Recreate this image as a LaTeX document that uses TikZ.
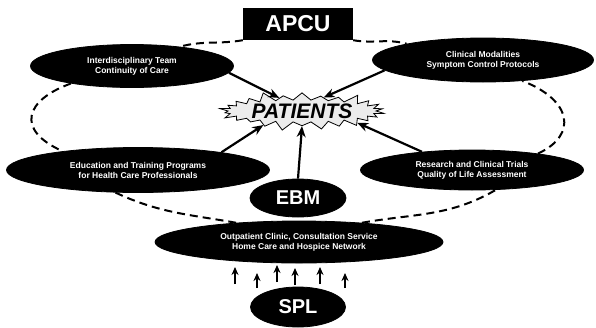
\documentclass[tikz,border=0pt]{standalone}
\usepackage{fontspec}
\setmainfont{Liberation Sans}
\usetikzlibrary{shapes.geometric,shapes.symbols,arrows.meta}
\tikzset{
  blob/.style={ellipse, fill=black, draw=black, line width=0.8pt, inner sep=0pt},
  blobtext/.style={text=white, font=\fontsize{8.5}{10}\selectfont\bfseries, align=center, inner sep=0pt},
  bigtext/.style={text=white, font=\fontsize{20}{22}\selectfont\bfseries},
  loopline/.style={dash pattern=on 8pt off 5pt, line width=2pt},
  parrow/.style={line width=2.2pt, -{Stealth[length=11pt,width=9pt]}},
  sarrow/.style={line width=1.6pt, -{Stealth[length=8pt,width=7pt]}}
}
\begin{document}
\begin{tikzpicture}[x=1pt,y=-1pt]
\useasboundingbox (0,0) rectangle (596,327);
% nodes
\node[fill=black, minimum width=110pt, minimum height=32pt, inner sep=0pt,
      text=white, font=\fontsize{23}{25}\selectfont\bfseries] (apcu) at (298,24) {APCU};
\node[starburst, starburst points=26, starburst point height=10pt, draw=black, line width=0.8pt,
      fill=gray!15, minimum width=168pt, minimum height=42pt, inner sep=0pt,
      font=\fontsize{21}{23}\selectfont\bfseries\itshape] (pat) at (302,111) {PATIENTS};
\node[blob, minimum width=203pt, minimum height=43pt] (tl) at (132,66) {};
\node[blobtext] (tlt) at (tl) {Interdisciplinary Team\\Continuity of Care};
\node[blob, minimum width=221pt, minimum height=44pt] (tr) at (483,60) {};
\node[blobtext] (trt) at (tr) {Clinical Modalities\\Symptom Control Protocols};
\node[blob, minimum width=263pt, minimum height=45pt] (bl) at (138,170) {};
\node[blobtext] (blt) at (bl) {Education and Training Programs\\for Health Care Professionals};
\node[blob, minimum width=223pt, minimum height=40pt] (br) at (472,170) {};
\node[blobtext] (brt) at (br) {Research and Clinical Trials\\Quality of Life Assessment};
\node[blob, minimum width=96pt, minimum height=38pt, bigtext] (ebm) at (298,198) {EBM};
\node[blob, minimum width=288pt, minimum height=42pt] (bot) at (299,242) {};
\node[blobtext] (bott) at (bot) {Outpatient Clinic, Consultation Service\\Home Care and Hospice Network};
\node[blob, minimum width=95pt, minimum height=40pt, bigtext] (spl) at (298,307) {SPL};
% dashed loop
\draw[loopline] (apcu.south west) to[out=190,in=15] (tl.22);
\draw[loopline] (apcu.south east) to[out=-10,in=165] (tr.168);
\draw[loopline] (tl.196) .. controls (25,100) and (15,130) .. (bl.166);
\draw[loopline] (bl.225) to[out=-25,in=170] (bot.163);
\draw[loopline] (bot.17) to[out=10,in=210] (br.-40);
\draw[loopline] (br.14) .. controls (578,135) and (572,100) .. (tr.-28);
% arrows to patients
\draw[parrow] (tl.-4) -- (pat.150);
\draw[parrow] (tr.186) -- (pat.32);
\draw[parrow] (bl.12) -- (pat.200);
\draw[parrow] (br.160) -- (pat.-12);
\draw[parrow] (ebm.north) -- (pat.south);
% small arrows from SPL
\foreach \i/\x/\t/\b in {1/235/267/284, 2/257/273/288, 3/277/265/282, 4/295/268/285, 5/320/267/284, 6/345/273/288}{
  \coordinate (s\i) at (\x,\b);
  \coordinate (e\i) at (\x,\t);
  \draw[sarrow] (s\i) -- (e\i);
}
\end{tikzpicture}
\end{document}
